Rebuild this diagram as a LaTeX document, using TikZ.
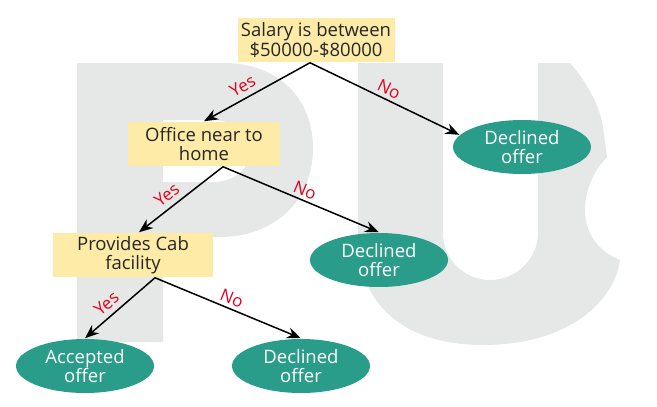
\documentclass[tikz,border=0pt]{standalone}
\usepackage{fontspec}
\setmainfont{Open Sans}
\usetikzlibrary{shapes.geometric, arrows.meta}
\definecolor{boxyellow}{HTML}{FDEBA7}
\definecolor{leafgreen}{HTML}{2A9D8A}
\definecolor{labelred}{HTML}{E3001B}
\definecolor{markgray}{HTML}{E6E7E7}
\begin{document}
\begin{tikzpicture}[x=1pt, y=-1pt, line width=1.5pt,
    test/.style = {fill=boxyellow, text=black!85, align=center, inner sep=2pt,
      minimum height=44pt, font=\fontsize{18.5}{19.5}\selectfont},
    leaf/.style = {ellipse, fill=leafgreen, text=white, align=center, inner sep=0pt,
      minimum width=138pt, minimum height=54pt, font=\fontsize{18.5}{19.5}\selectfont},
    branch/.style = {-{Stealth[length=14pt, width=11pt]}},
    yes/.style = {text=labelred, sloped, above=2pt, pos=0.58, font=\fontsize{17}{19}\selectfont},
    no/.style = {text=labelred, sloped, above=0pt, pos=0.5, font=\fontsize{17}{19}\selectfont}]
  \useasboundingbox (0,0) rectangle (657,407);
  % faint letters behind the tree
  \fill[markgray] (77,63) -- (223,63) .. controls (280,63) and (313,100) .. (313,148)
    .. controls (313,200) and (275,237) .. (220,237) -- (163,237) -- (163,342) -- (77,342) -- cycle;
  \fill[white] (163,120) -- (212,120) .. controls (235,120) and (250,135) .. (250,151)
    .. controls (250,168) and (235,182) .. (212,182) -- (163,182) -- cycle;
  \fill[markgray] (358,63) -- (443,63) -- (443,233) .. controls (443,259) and (464,280) .. (490,280)
    .. controls (516,280) and (538,259) .. (538,233) -- (538,63) -- (570,63)
    .. controls (585,80) and (600,105) .. (603,127) -- (607,157)
    .. controls (590,175) and (585,195) .. (585,210) .. controls (585,235) and (600,252) .. (620,260)
    .. controls (615,300) and (570,345) .. (483,345) .. controls (400,345) and (358,300) .. (358,240) -- cycle;
  % tree
  \node[test, minimum width=157pt] (root) at (316,40) {Salary is between\\\$50000-\$80000};
  \node[test, minimum width=152pt] (office) at (204,144) {Office near to\\home};
  \node[test, minimum width=160pt] (cab) at (133,255) {Provides Cab\\facility};
  \node[leaf] (dec1) at (522,147) {Declined\\offer};
  \node[leaf] (dec2) at (379,260) {Declined\\offer};
  \node[leaf] (acc) at (85,366) {Accepted\\offer};
  \node[leaf] (dec3) at (301,366) {Declined\\offer};
  \draw[branch] ([xshift=-6pt]root.south) -- node[yes] {Yes} (office.north);
  \draw[branch] ([xshift=-6pt]root.south) -- node[no] {No} (dec1.169);
  \draw[branch] ([xshift=19pt]office.south) -- node[yes] {Yes} ([xshift=6pt]cab.north);
  \draw[branch] ([xshift=19pt]office.south) -- node[no] {No} (dec2.north);
  \draw[branch] ([xshift=22pt]cab.south) -- node[yes] {Yes} (acc.north);
  \draw[branch] ([xshift=22pt]cab.south) -- node[no] {No} (dec3.north);
\end{tikzpicture}
\end{document}
